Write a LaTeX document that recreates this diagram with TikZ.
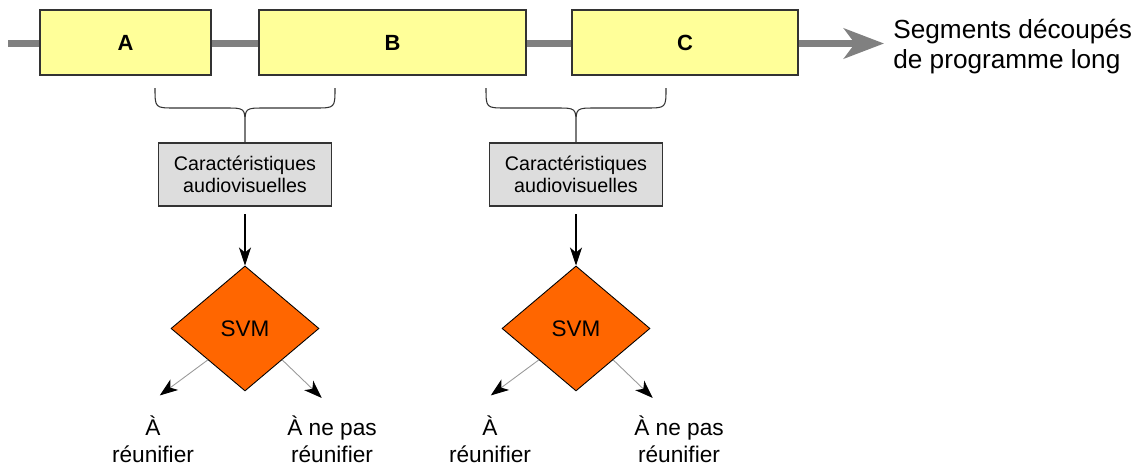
\documentclass[tikz,border=0pt]{standalone}
\usepackage{fontspec}
\setmainfont{Liberation Sans}
\usetikzlibrary{arrows.meta, positioning, shapes.geometric}

\definecolor{segyellow}{RGB}{255,255,153}
\definecolor{featgray}{RGB}{221,221,221}
\definecolor{svmorange}{RGB}{255,102,0}
\definecolor{bargray}{RGB}{128,128,128}

\begin{document}
\begin{tikzpicture}[
    >=Stealth, node distance=0.5cm,
    segbox/.style={draw=black!80, line width=0.6pt, fill=segyellow,
      minimum height=1.3cm, font=\fontsize{12.5}{15}\selectfont\bfseries},
    featbox/.style={draw=black!80, line width=0.6pt, fill=featgray,
      minimum width=3.46cm, minimum height=1.26cm, align=center,
      font=\fontsize{11.2}{12.2}\selectfont},
    svmnode/.style={diamond, draw=black, line width=0.5pt, fill=svmorange,
      inner sep=0pt, minimum width=2.96cm, minimum height=2.5cm,
      font=\fontsize{12.8}{15}\selectfont},
    outcome/.style={align=center, inner sep=0pt,
      font=\fontsize{12.9}{15.3}\selectfont},
    curly/.style={draw=black!80, line width=0.6pt},
    feed/.style={-{Stealth[length=0.36cm, width=0.24cm, inset=0.1cm]},
      line width=0.6pt, shorten <=0.15cm},
    decide/.style={-{Stealth[length=0.36cm, width=0.26cm, inset=0.1cm,
      color=black]}, draw=black!40, line width=0.5pt}
  ]
  \useasboundingbox (0,0) rectangle (22.84,-9.32);

  % timeline of the long programme
  \coordinate (tl0) at (0.16,-0.87);
  \coordinate (tl1) at (17.68,-0.87);
  \draw[line width=0.14cm, bargray,
        -{Stealth[length=0.8cm, width=0.6cm, inset=0.22cm]}] (tl0) -- (tl1);
  \node[anchor=west, align=left, inner sep=0pt,
        font=\fontsize{14.9}{17}\selectfont] (tllabel) at (17.86,-0.94)
    {Segments découpés\\de programme long};

  \node[segbox, minimum width=3.42cm] (segA) at (2.51,-0.85) {A};
  \node[segbox, minimum width=5.34cm] (segB) at (7.85,-0.85) {B};
  \node[segbox, minimum width=4.52cm] (segC) at (13.7,-0.85) {C};

  % features of each pair of segments
  \node[featbox] (featAB) at (4.9,-3.49) {Caractéristiques\\audiovisuelles};
  \node[featbox] (featBC) at (11.52,-3.49) {Caractéristiques\\audiovisuelles};

  \foreach \bx/\fb in {4.9/featAB, 11.52/featBC}
    \draw[curly] (\bx-1.8,-1.76) .. controls (\bx-1.8,-2.16) .. (\bx-1.4,-2.16)
      -- (\bx-0.4,-2.16) .. controls (\bx,-2.16) .. (\bx,-2.5) -- (\fb.north)
      (\bx+1.8,-1.76) .. controls (\bx+1.8,-2.16) .. (\bx+1.4,-2.16)
      -- (\bx+0.4,-2.16) .. controls (\bx,-2.16) .. (\bx,-2.5);

  \node[svmnode, below=1.18cm of featAB] (svmAB) {SVM};
  \node[svmnode, below=1.18cm of featBC] (svmBC) {SVM};
  \draw[feed] (featAB) -- (svmAB);
  \draw[feed] (featBC) -- (svmBC);

  % decisions
  \node[outcome, below=0.48cm of svmAB.south, xshift=-1.84cm] (yesAB)
    {À\\réunifier};
  \node[outcome, below=0.48cm of svmAB.south, xshift=1.74cm] (noAB)
    {À ne pas\\réunifier};
  \node[outcome, below=0.48cm of svmBC.south, xshift=-1.72cm] (yesBC)
    {À\\réunifier};
  \node[outcome, below=0.48cm of svmBC.south, xshift=2.06cm] (noBC)
    {À ne pas\\réunifier};

  \coordinate[below left=0.71cm and 0.96cm of svmAB.south west] (yesABend);
  \coordinate[below right=0.76cm and 0.79cm of svmAB.south east] (noABend);
  \coordinate[below left=0.71cm and 0.96cm of svmBC.south west] (yesBCend);
  \coordinate[below right=0.76cm and 0.79cm of svmBC.south east] (noBCend);
  \draw[decide] (svmAB.south west) -- (yesABend);
  \draw[decide] (svmAB.south east) -- (noABend);
  \draw[decide] (svmBC.south west) -- (yesBCend);
  \draw[decide] (svmBC.south east) -- (noBCend);
\end{tikzpicture}
\end{document}
